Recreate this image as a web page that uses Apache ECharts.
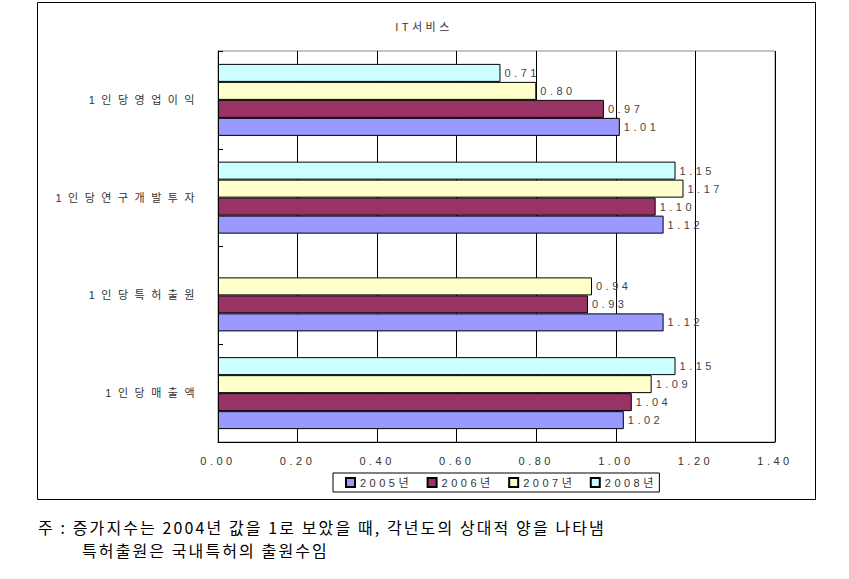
<!DOCTYPE html>
<html>
<head>
<meta charset="utf-8">
<script src="https://cdn.jsdelivr.net/npm/echarts@6/dist/echarts.min.js"></script>
<style>
  html, body { margin: 0; padding: 0; background: #fff; }
  #chart { width: 849px; height: 579px; }
  #chart text[style*="Liberation"], #chart text[font-family*="Liberation"] { letter-spacing: 3.5px; }
  #chart text[style*="catlbl"], #chart text[font-family*="catlbl"] { letter-spacing: 6.5px; }
  #chart text[style*="notelbl"], #chart text[font-family*="notelbl"] { letter-spacing: 2.1px; }
</style>
</head>
<body>
<div id="chart"></div>
<script>
// ---- data ----
const categories = ['1인당매출액', '1인당특허출원', '1인당연구개발투자', '1인당영업이익'];
const seriesNames = ['2005년', '2006년', '2007년', '2008년'];
const v2005 = [1.02, 1.12, 1.12, 1.01];
const v2006 = [1.04, 0.93, 1.10, 0.97];
const v2007 = [1.09, 0.94, 1.17, 0.80];
const v2008 = [1.15, null, 1.15, 0.71];
const xTicks = [0, 0.2, 0.4, 0.6, 0.8, 1.0, 1.2, 1.4];
const titleText = 'IT서비스';
const noteLine1 = '주 : 증가지수는 2004년 값을 1로 보았을 때, 각년도의 상대적 양을 나타냄';
const noteLine2 = '특허출원은 국내특허의 출원수임';

const colors = ['#9999FF', '#993366', '#FFFFCC', '#CCFFFF'];
const SPACED = "'Liberation Sans', 'Noto Sans CJK KR', sans-serif";
const CAT = "'Liberation Sans', 'Noto Sans CJK KR', catlbl, sans-serif";
const NOTE = "'Noto Sans CJK KR', notelbl, sans-serif";
const labelColor = '#3f4650';

const values = [v2005, v2006, v2007, v2008];
// ECharts places horizontal-bar series top-down, so add them in reverse to keep 2005 at the bottom
const series = seriesNames.map((name, i) => ({
  name: name,
  type: 'bar',
  data: values[i],
  barWidth: 18,
  barGap: '0%',
  itemStyle: { color: colors[i], borderColor: '#000', borderWidth: 1 },
  label: {
    show: true, position: 'right', distance: 4,
    formatter: p => p.value == null ? '' : p.value.toFixed(2),
    fontFamily: SPACED, fontSize: 11, color: labelColor
  },
  emphasis: { disabled: true }
})).reverse();

const chart = echarts.init(document.getElementById('chart'), null, { renderer: 'svg' });
chart.setOption({
  animation: false,
  grid: { left: 218, right: 74, top: 51, bottom: 137, containLabel: false,
          show: true, borderColor: '#888', borderWidth: 1, backgroundColor: 'transparent' },
  xAxis: {
    type: 'value', min: 0, max: 1.4, interval: 0.2,
    axisLine: { show: true, lineStyle: { color: '#000', width: 1 } }, axisTick: { show: false },
    splitLine: { show: true, lineStyle: { color: '#000', width: 1 } },
    axisLabel: { formatter: v => v.toFixed(2), fontFamily: SPACED, fontSize: 11, color: '#333', margin: 13 }
  },
  yAxis: {
    type: 'category', data: categories,
    axisLine: { show: true, lineStyle: { color: '#000', width: 1 } },
    axisTick: { show: true, inside: true, length: 5, lineStyle: { color: '#000' } },
    axisLabel: { fontFamily: CAT, fontSize: 11, color: '#333', margin: 17 }
  },
  legend: {
    data: seriesNames,
    left: 333, top: 473,
    orient: 'horizontal',
    itemWidth: 9, itemHeight: 9, itemGap: 32,
    padding: [4, 20, 4, 12],
    borderColor: '#000', borderWidth: 1,
    icon: 'rect',
    textStyle: { fontFamily: SPACED, fontSize: 11, color: '#333' }
  },
  graphic: [
    { type: 'rect', shape: { x: 37.5, y: 2.5, width: 778, height: 497 }, style: { fill: 'none', stroke: '#000', lineWidth: 1 }, silent: true, z: -1 },
    { type: 'text', x: 424, y: 27, style: { text: titleText, fontFamily: SPACED, fontSize: 11, fill: '#333', textAlign: 'center', textVerticalAlign: 'middle' } },
    { type: 'text', x: 38, y: 527, style: { text: noteLine1, fontFamily: NOTE, fontSize: 16, fill: '#000', textAlign: 'left', textVerticalAlign: 'middle' } },
    { type: 'text', x: 82, y: 550, style: { text: noteLine2, fontFamily: NOTE, fontSize: 16, fill: '#000', textAlign: 'left', textVerticalAlign: 'middle' } }
  ],
  series: series
});
</script>
</body>
</html>
